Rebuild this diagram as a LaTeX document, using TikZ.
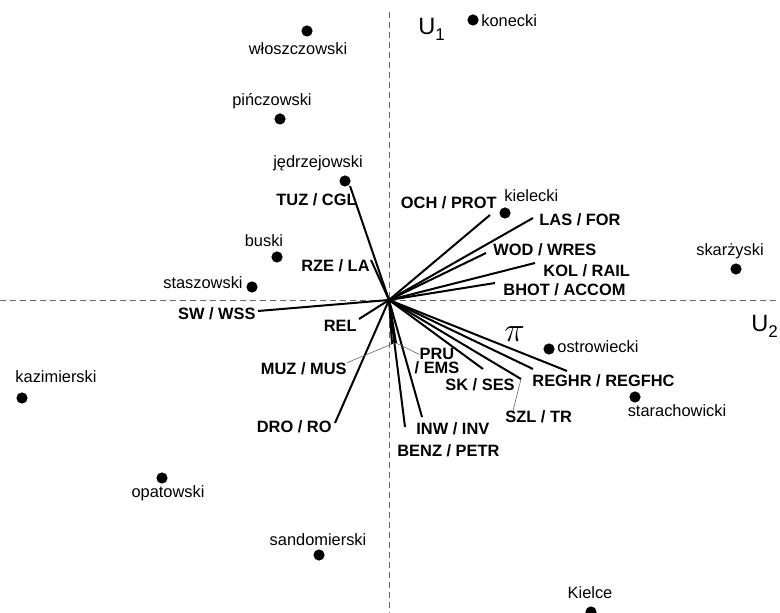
\documentclass[tikz,border=0pt]{standalone}
\usepackage{fontspec}
\setmainfont{Liberation Sans}
\usetikzlibrary{calc}
\tikzstyle{axis}=[line width=0.3pt,densely dashed,black!60]
\tikzstyle{vector}=[line width=1pt]
\tikzstyle{leader}=[line width=0.3pt,black!60]
\tikzstyle{county}=[circle,fill=black,inner sep=0pt,minimum size=5.6pt]
\tikzstyle{countylabel}=[inner sep=0pt,font=\fontsize{8.2}{10}\selectfont]
\tikzstyle{varlabel}=[inner sep=0pt,font=\fontsize{8.2}{10}\selectfont\bfseries]
\tikzstyle{axislabel}=[inner sep=0pt,anchor=base west,font=\fontsize{11.8}{14}\selectfont]
\newcommand{\axissub}[1]{\lower3pt\hbox{\fontsize{8.5}{10}\selectfont #1}}

\begin{document}
\begin{tikzpicture}[x=0.5pt,y=-0.5pt]
	\useasboundingbox (0,0) rectangle (780,613);
	% axes U1 and U2
	\coordinate (o) at (389,300);
	\coordinate (xl) at (0,300);
	\coordinate (xr) at (780,300);
	\coordinate (yt) at (389,12);
	\coordinate (yb) at (389,613);
	\draw[axis] (xl) -- (xr);
	\draw[axis] (yt) -- (yb);
	\node[axislabel] (u1) at (418,35) {U\axissub{1}};
	\node[axislabel] (u2) at (751,332) {U\axissub{2}};
	\node[inner sep=0pt,anchor=base west,font=\fontsize{16}{18}\selectfont] (pi) at (504,342) {$\pi$};
	% variables
	\foreach \nm/\ex/\ey/\anc/\lx/\ly/\txt in {
		tuz/350/186/base east/357/206/{TUZ / CGL},
		rze/371/260/base east/370/272/{RZE / LA},
		och/490/215/base east/497/209/{OCH / PROT},
		las/533/218/base west/539/226/{LAS / FOR},
		wod/486/253/base west/493/256/{WOD / WRES},
		kol/535/263/base west/543/277/{KOL / RAIL},
		bhot/495/283/base west/503/296/{BHOT / ACCOM},
		sw/258/311/base east/256/320/{SW / WSS},
		rel/359/319/base east/357/332/{REL},
		muz/392/344/base east/347/375/{MUZ / MUS},
		dro/335/423/base east/332/433/{DRO / RO},
		benz/405/427/base west/397/457/{BENZ / PETR},
		inw/422/417/base west/416/435/{INW / INV},
		pru/396/343/base/437/360/{PRU},
		sk/483/369/base west/445/391/{SK / SES},
		szl/521/379/base west/505/423/{SZL / TR},
		reghr/567/371/base west/532/387/{REGHR / REGFHC}
	} {
		\coordinate (\nm) at (\ex,\ey);
		\draw[vector] (o) -- (\nm);
		\node[varlabel,anchor=\anc] (\nm-l) at (\lx,\ly) {\txt};
	}
	\node[varlabel,anchor=base] (ems-l) at (437,374) {/ EMS};
	\coordinate (rg) at (533,369);
	\draw[vector] (o) -- (rg);
	\draw[leader] (muz-l.north east) -- (muz);
	\draw[leader] (pru-l.west) -- (pru);
	\draw[leader] ($(szl-l.north west)+(8,0)$) -- (szl);
	% counties
	\foreach \nm/\px/\py/\anc/\lx/\ly/\txt in {
		konecki/473/20/base west/481/27/konecki,
		wloszczowski/307/31/base/298/55/włoszczowski,
		pinczowski/280/119/base/272/106/pińczowski,
		jedrzejowski/345/181/base/318/168/jędrzejowski,
		kielecki/505/213/base west/504/202/kielecki,
		skarzyski/736/269/base/730/256/skarżyski,
		buski/277/257/base/264/247/buski,
		staszowski/252/287/base east/243/289/staszowski,
		ostrowiecki/549/349/base west/557/353/ostrowiecki,
		starachowicki/635/397/base/677/417/starachowicki,
		kazimierski/22/398/base/56/383/kazimierski,
		opatowski/162/478/base/168/497/opatowski,
		sandomierski/319/555/base/318/545/sandomierski,
		kielce/591/612/base/590/598/Kielce
	} {
		\node[county] (\nm) at (\px,\py) {};
		\node[countylabel,anchor=\anc] (\nm-l) at (\lx,\ly) {\txt};
	}
\end{tikzpicture}
\end{document}
